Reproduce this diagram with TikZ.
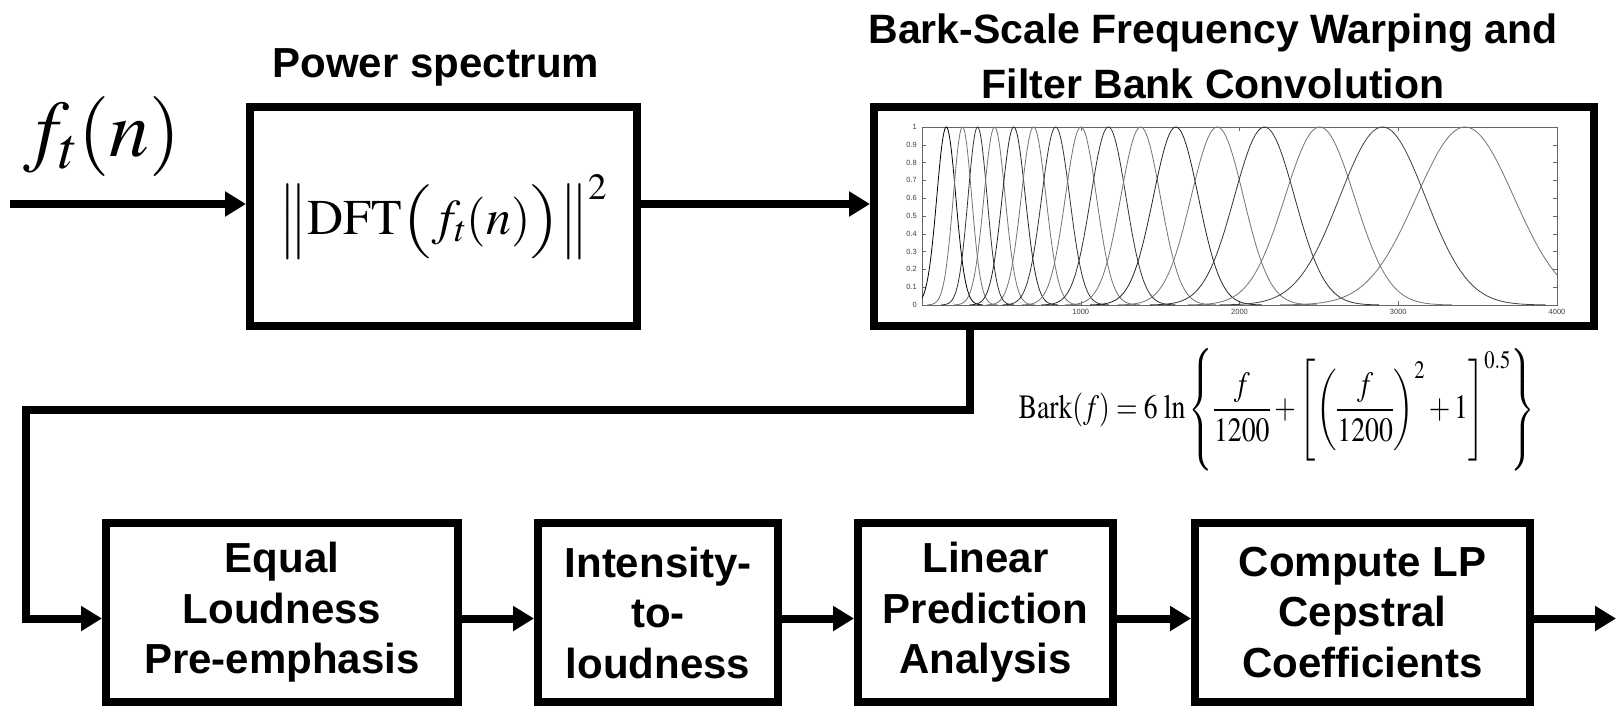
\documentclass[tikz,border=0pt]{standalone}
\usepackage{graphicx}
\usepackage{mathptmx}
\usepackage[no-math]{fontspec}
\setmainfont{Liberation Serif}
\setsansfont{Liberation Sans}
\newfontfamily\lsans{Liberation Sans}
\usetikzlibrary{arrows.meta}
\newcommand{\mydl}[1]{\vcenter{\hbox{\scalebox{1}[0.82]{$\Big#1$}}}}
\tikzset{
  box/.style={draw=black, line width=8pt, fill=white, inner sep=0pt},
  blk/.style={box, font=\lsans\bfseries\fontsize{42}{50.5}\selectfont, align=center},
  arr/.style={line width=8pt, -{Triangle[length=21pt,width=24pt]}},
  lbl/.style={font=\lsans\bfseries\fontsize{42}{54}\selectfont, align=center, inner sep=0pt},
  axlbl/.style={font=\lsans\fontsize{7.5}{8}\selectfont, text=black!75, inner sep=0pt},
  curve/.style={line width=0.8pt},
}
\begin{document}
\begin{tikzpicture}[x=1pt,y=-1pt]
\useasboundingbox (0,0) rectangle (1616,706);

% ---- top row
\node[box, minimum width=387pt, minimum height=219pt] (dft) at (443.5,216.5)
  {\fontsize{50}{60}\selectfont$\mydl\|\mathrm{DFT}\mydl(f_t(n)\mydl)\mydl\|^{2}$};
\node[box, minimum width=720pt, minimum height=219pt] (filt) at (1234,216.5) {};

\node[inner sep=0pt] (ft) at (102,136.5) {\fontsize{80}{90}\selectfont$f_t(n)$};
\node[lbl, anchor=base] (pstitle) at (436,78) {Power spectrum};
\node[lbl, font=\lsans\bfseries\fontsize{41}{55}\selectfont] (bktitle) at (1213,56)
  {Bark-Scale Frequency Warping and\\Filter Bank Convolution};

% ---- filter bank plot inside the filter box
\draw[black!60, line width=0.6pt] (922,127) rectangle (1557,305);
\foreach \g/\t in {0/0,1/0.1,2/0.2,3/0.3,4/0.4,5/0.5,6/0.6,7/0.7,8/0.8,9/0.9,10/1}{
  \draw[black!60, line width=0.5pt] (922,{305-17.8*\g}) -- ++(4,0);
  \draw[black!60, line width=0.5pt] (1557,{305-17.8*\g}) -- ++(-4,0);
  \node[axlbl, anchor=east] (yl\g) at (917,{305-17.8*\g}) {\t};
}
\foreach \f in {1000,2000,3000,4000}{
  \draw[black!60, line width=0.5pt] ({922+0.15875*\f},305) -- ++(0,-4);
  \draw[black!60, line width=0.5pt] ({922+0.15875*\f},127) -- ++(0,4);
  \node[axlbl, anchor=north] (xl\f) at ({922+0.15875*\f},309) {\f};
}
\begin{scope}
\clip (922,125) rectangle (1557,306);
\foreach \cc/\ss/\col in {153/60/black, 255/58/black!55, 350/60/black!80, 457/67/black!55,
  578/73/black!85, 703/78/black!55, 842/88/black!80, 1001/98/black!55, 1174/111/black!80,
  1377/125/black!55, 1599/142/black!85, 1860/165/black!55, 2157/190/black!80,
  2505/219/black!55, 2901/270/black!75, 3421/307/black!55}{
  \pgfmathsetmacro\lo{max(0,\cc-3.8*\ss)}
  \pgfmathsetmacro\hi{min(4000,\cc+3.8*\ss)}
  \draw[curve, \col] plot[domain=\lo:\hi, samples=90, smooth]
    ({922+0.15875*\x},{305-178*exp(-0.5*((\x-\cc)/\ss)*((\x-\cc)/\ss))});
}
\end{scope}

% ---- bottom row
\node[blk, minimum width=352pt, minimum height=179pt] (eq) at (282,612.5)
  {Equal\\Loudness\\Pre-emphasis};
\node[blk, minimum width=240pt, minimum height=179pt] (il) at (658,612.5)
  {Intensity-\\to-\\loudness};
\node[blk, minimum width=255pt, minimum height=179pt] (lp) at (985.5,612.5)
  {Linear\\Prediction\\Analysis};
\node[blk, minimum width=335pt, minimum height=179pt] (cc) at (1362.5,612.5)
  {Compute LP\\Cepstral\\Coefficients};

% ---- formula
\node[inner sep=0pt] (bark) at (1277,410) {\fontsize{34}{40}\selectfont
  \scalebox{0.816}[1]{$\displaystyle\mathrm{Bark}(f)=6\,\ln\left\{\frac{f}{1200}+\left[\left(\frac{f}{1200}\right)^{2}+1\right]^{0.5}\right\}$}};

% ---- connectors
\coordinate (in) at (10,204);
\coordinate (out) at (1616,618.5);
\coordinate (c1) at (970,410);
\coordinate (c2) at (26,410);

\draw[arr] (in) -- ([yshift=12.5pt]dft.west);
\draw[arr] ([yshift=12.5pt]dft.east) -- ([yshift=12.5pt]filt.west);
\draw[arr] (filt.south -| c1) |- (c2) |- ([yshift=-6pt]eq.west);
\draw[arr] ([yshift=-6pt]eq.east) -- ([yshift=-6pt]il.west);
\draw[arr] ([yshift=-6pt]il.east) -- ([yshift=-6pt]lp.west);
\draw[arr] ([yshift=-6pt]lp.east) -- ([yshift=-6pt]cc.west);
\draw[arr] ([yshift=-6pt]cc.east) -- (out);
\end{tikzpicture}
\end{document}
